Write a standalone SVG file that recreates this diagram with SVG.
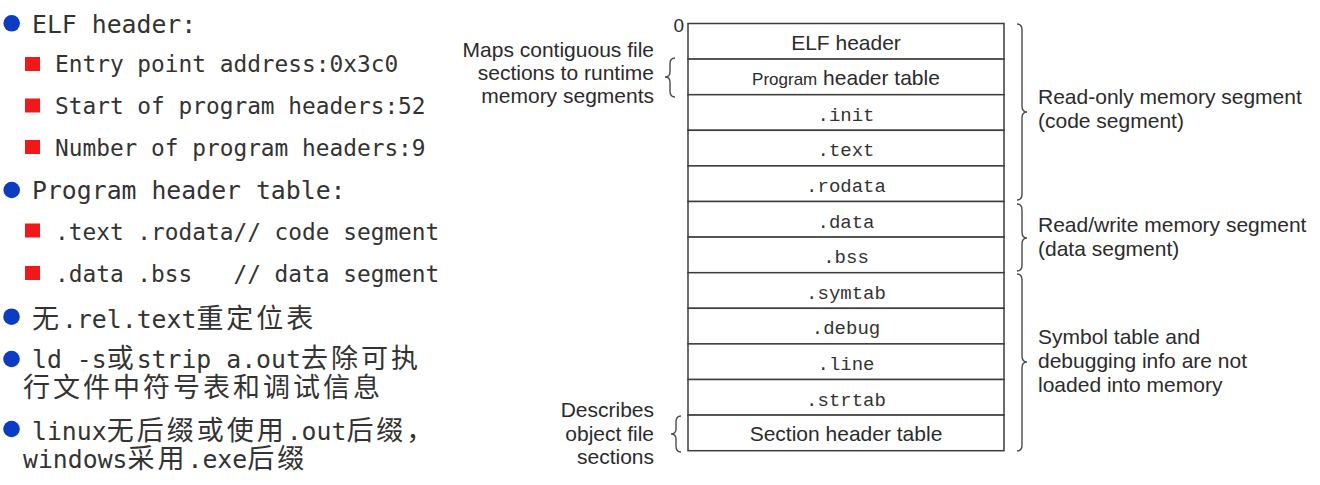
<svg xmlns="http://www.w3.org/2000/svg" width="1320" height="485" viewBox="0 0 1320 485">
<style>
.m{font-family:"DejaVu Sans Mono","Liberation Mono",monospace;fill:#333;white-space:pre}
.h1{font-size:24.8px}
.h2{font-size:22.8px}
.cj{font-family:"Noto Sans CJK SC","Noto Sans CJK JP",sans-serif;font-size:27px;letter-spacing:3px}
.dot{fill:#0c3cc4}
.sq{fill:#f01818}
.cell{fill:#fff;stroke:#3c3c3c;stroke-width:1.5}
.lbl{font-family:"Liberation Sans",Arial,sans-serif;font-size:21px;fill:#2b2b2b}
.c{text-anchor:middle}
.e{text-anchor:end}
.mono{font-family:"Liberation Mono","Courier New",monospace;font-size:19px;fill:#333;text-anchor:middle}
.brace{fill:none;stroke:#4a4a4a;stroke-width:1.4}
</style>
<rect width="1320" height="485" fill="#fff"/>

<g id="bullets">
  <circle class="dot" cx="11.7" cy="23.3" r="8.3"/>
  <text class="m h1" x="32" y="33">ELF header:</text>
  <rect class="sq" x="25" y="57" width="15" height="14"/>
  <text class="m h2" x="55" y="72">Entry point address:0x3c0</text>
  <rect class="sq" x="25" y="98.5" width="15" height="14"/>
  <text class="m h2" x="55" y="114">Start of program headers:52</text>
  <rect class="sq" x="25" y="140" width="15" height="14"/>
  <text class="m h2" x="55" y="156">Number of program headers:9</text>
  <circle class="dot" cx="11.7" cy="190" r="8.3"/>
  <text class="m h1" x="32" y="199">Program header table:</text>
  <rect class="sq" x="25" y="223.5" width="15" height="14"/>
  <text class="m h2" x="55" y="240">.text .rodata// code segment</text>
  <rect class="sq" x="25" y="266" width="15" height="14"/>
  <text class="m h2" x="55" y="282">.data .bss   // data segment</text>
  <circle class="dot" cx="11.5" cy="316.7" r="8.3"/>
  <text class="m h1" x="32" y="328"><tspan class="cj">无</tspan>.rel.text<tspan class="cj">重定位表</tspan></text>
  <circle class="dot" cx="11.5" cy="359" r="8.3"/>
  <text class="m h1" x="32" y="368">ld -s<tspan class="cj">或</tspan>strip a.out<tspan class="cj">去除可执</tspan><tspan class="cj" x="23" y="397">行文件中符号表和调试信息</tspan></text>
  <circle class="dot" cx="11.5" cy="429" r="8.3"/>
  <text class="m h1" x="32" y="440">linux<tspan class="cj">无后缀或使用</tspan>.out<tspan class="cj">后缀，</tspan><tspan x="23" y="468">windows</tspan><tspan class="cj">采用</tspan>.exe<tspan class="cj">后缀</tspan></text>
</g>

<g id="table">
  <text class="lbl e" x="684" y="32" style="font-size:19px">0</text>
  <g id="row-elf"><rect class="cell" x="688" y="23.5" width="316" height="35.6"/><text class="lbl c" x="846" y="49.5">ELF header</text></g>
  <g id="row-pht"><rect class="cell" x="688" y="59.1" width="316" height="35.6"/><text class="lbl c" x="846" y="85.1"><tspan style="font-size:17px">Program</tspan> header table</text></g>
  <g id="row-init"><rect class="cell" x="688" y="94.7" width="316" height="35.6"/><text class="mono" x="846" y="120.7">.init</text></g>
  <g id="row-text"><rect class="cell" x="688" y="130.3" width="316" height="35.6"/><text class="mono" x="846" y="156.3">.text</text></g>
  <g id="row-rodata"><rect class="cell" x="688" y="165.9" width="316" height="35.6"/><text class="mono" x="846" y="191.9">.rodata</text></g>
  <g id="row-data"><rect class="cell" x="688" y="201.5" width="316" height="35.6"/><text class="mono" x="846" y="227.5">.data</text></g>
  <g id="row-bss"><rect class="cell" x="688" y="237.1" width="316" height="35.6"/><text class="mono" x="846" y="263.1">.bss</text></g>
  <g id="row-symtab"><rect class="cell" x="688" y="272.7" width="316" height="35.6"/><text class="mono" x="846" y="298.7">.symtab</text></g>
  <g id="row-debug"><rect class="cell" x="688" y="308.3" width="316" height="35.6"/><text class="mono" x="846" y="334.3">.debug</text></g>
  <g id="row-line"><rect class="cell" x="688" y="343.9" width="316" height="35.6"/><text class="mono" x="846" y="369.9">.line</text></g>
  <g id="row-strtab"><rect class="cell" x="688" y="379.5" width="316" height="35.6"/><text class="mono" x="846" y="405.5">.strtab</text></g>
  <g id="row-sht"><rect class="cell" x="688" y="415.1" width="316" height="35.6"/><text class="lbl c" x="846" y="441.1">Section header table</text></g>
</g>

<g id="connectors">
  <path class="brace" d="M675,58 Q670,58 670,64 L670,72 Q670,77 665,77 Q670,77 670,82 L670,91 Q670,97 675,97"/>
  <path class="brace" d="M681,416 Q676,416 676,422 L676,429 Q676,434 671,434 Q676,434 676,439 L676,446 Q676,452 681,452"/>
  <path class="brace" d="M1017,24 Q1022,24 1022,30 L1022,106 Q1022,112 1027,112 Q1022,112 1022,118 L1022,194 Q1022,200 1017,200"/>
  <path class="brace" d="M1017,204 Q1022,204 1022,210 L1022,232 Q1022,238 1027,238 Q1022,238 1022,244 L1022,265 Q1022,271 1017,271"/>
  <path class="brace" d="M1017,274 Q1022,274 1022,280 L1022,356 Q1022,362 1027,362 Q1022,362 1022,368 L1022,445 Q1022,451 1017,451"/>
</g>

<g id="labels">
  <text class="lbl e" x="654" y="57">Maps contiguous file</text>
  <text class="lbl e" x="654" y="80">sections to runtime</text>
  <text class="lbl e" x="654" y="103">memory segments</text>
  <text class="lbl e" x="654" y="417">Describes</text>
  <text class="lbl e" x="654" y="441">object file</text>
  <text class="lbl e" x="654" y="464">sections</text>
  <text class="lbl" x="1038" y="104">Read-only memory segment</text>
  <text class="lbl" x="1038" y="128">(code segment)</text>
  <text class="lbl" x="1038" y="232">Read/write memory segment</text>
  <text class="lbl" x="1038" y="256">(data segment)</text>
  <text class="lbl" x="1038" y="344">Symbol table and</text>
  <text class="lbl" x="1038" y="368">debugging info are not</text>
  <text class="lbl" x="1038" y="392">loaded into memory</text>
</g>
</svg>
